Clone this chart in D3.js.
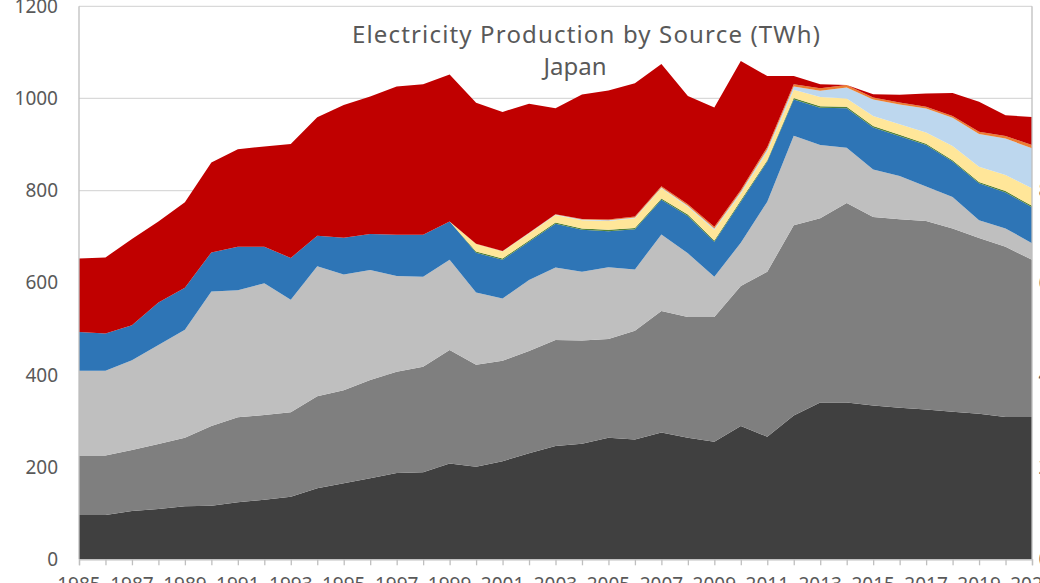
<!DOCTYPE html>
<html>
<head>
<meta charset="utf-8">
<script src="https://cdn.jsdelivr.net/npm/d3@7.9.0/dist/d3.min.js"></script>
<style>
  html, body { margin: 0; padding: 0; background: #fff; overflow: hidden; }
  svg { display: block; }
  text { font-family: "Noto Sans", "Open Sans", sans-serif; fill: #595959; }
</style>
</head>
<body>
<svg id="chart" width="1040" height="583"></svg>
<script>
const years = d3.range(1985, 2022);

const coal = [96, 96, 105, 109, 115, 116, 124, 129, 136, 154, 165, 176, 187, 189, 208,
  201, 213, 230, 246, 251, 264, 260, 275, 264, 255, 289, 266,
  312, 340, 340, 334, 329, 325, 320, 316, 309, 309];
const gas = [129, 129, 132, 141, 149, 173, 184, 184, 183, 200, 202, 213, 220, 229, 246,
  221, 218, 222, 230, 224, 214, 236, 264, 262, 271, 304, 358,
  413, 400, 433, 409, 409, 409, 398, 381, 369, 341];
const oil = [184, 184, 195, 215, 234, 292, 276, 286, 244, 282, 251, 239, 208, 195, 196,
  157, 135, 154, 157, 149, 156, 133, 166, 138, 87, 94, 152,
  194, 159, 120, 103, 94, 75, 68, 39, 40, 36];
const hydro = [84, 81, 76, 92, 91, 85, 94, 79, 91, 66, 80, 78, 89, 91, 83,
  86, 84, 83, 95, 91, 78, 87, 75, 81, 76, 89, 87,
  79, 81, 86, 91, 86, 90, 77, 80, 78, 78];
const geothermal = [0, 0, 0, 0, 0, 0, 0, 0, 0, 0, 0, 0, 0, 0, 0,
  3, 3, 3, 3, 3, 3, 3, 3, 3, 3, 3, 3,
  3, 3, 3, 3, 3, 3, 3, 3, 3, 3];
const bioenergy = [0, 0, 0, 0, 0, 0, 0, 0, 0, 0, 0, 0, 0, 0, 0,
  16, 15, 15, 16, 18, 19, 21, 22, 17, 23, 15, 19,
  18, 20, 18, 22, 23, 24, 31, 33, 35, 38];
const solar = [0, 0, 0, 0, 0, 0, 0, 0, 0, 0, 0, 0, 0, 0, 0,
  0.4, 0.6, 0.9, 1.1, 1.3, 1.5, 1.7, 2, 2.3, 2.8, 3.5, 5,
  7, 14, 24, 36, 43, 52, 61, 71, 79, 87];
const wind = [0, 0, 0, 0, 0, 0, 0, 0, 0, 0, 0, 0, 0, 0, 0,
  0.1, 0.3, 0.6, 0.9, 1.3, 1.7, 2.2, 2.6, 2.9, 3.6, 4, 4.6,
  5, 5, 5, 4, 4, 4, 4, 5, 5.5, 7];
const nuclear = [160, 165, 187, 176, 186, 195, 212, 218, 247, 257, 288, 298, 322, 327, 319,
  306, 302, 280, 230, 270, 280, 289, 265, 235, 259, 280, 154,
  18, 9, 0, 7, 17, 29, 50, 65, 45, 61];

const sources = ["Coal", "Gas", "Oil", "Hydro", "Geothermal", "Bioenergy", "Solar", "Wind", "Nuclear"];
const seriesValues = [coal, gas, oil, hydro, geothermal, bioenergy, solar, wind, nuclear];
const colors = ["#404040", "#7f7f7f", "#bfbfbf", "#2e75b6", "#548235", "#ffe699", "#bdd7ee", "#ed7d31", "#c00000"];
const yTicks = [0, 200, 400, 600, 800, 1000, 1200];
const xLabelYears = years.filter(y => (y - 1985) % 2 === 0);

const table = years.map((yr, i) => {
  const row = { year: yr };
  sources.forEach((s, k) => { row[s] = seriesValues[k][i]; });
  return row;
});

const svg = d3.select("#chart");
const plotLeft = 79, plotRight = 1032, plotBottom = 559.3, plotTop = 6.3;

const x = d3.scaleLinear().domain([1985, 2021]).range([plotLeft, plotRight]);
const y = d3.scaleLinear().domain([0, 1200]).range([plotBottom, plotTop]);

// gridlines
svg.append("g")
  .selectAll("line")
  .data(yTicks.filter(d => d > 0))
  .join("line")
  .attr("x1", plotLeft).attr("x2", plotRight)
  .attr("y1", d => y(d)).attr("y2", d => y(d))
  .attr("stroke", "#d9d9d9")
  .attr("stroke-width", 1.3);

// stacked areas
const stacked = d3.stack().keys(sources)(table);
const area = d3.area()
  .x(d => x(d.data.year))
  .y0(d => y(d[0]))
  .y1(d => y(d[1]));

svg.append("g")
  .selectAll("path")
  .data(stacked)
  .join("path")
  .attr("d", area)
  .attr("fill", (d, i) => colors[i]);

// axis lines
const axisColor = "#bfbfbf";
svg.append("line")
  .attr("x1", plotLeft).attr("x2", plotLeft).attr("y1", plotTop).attr("y2", plotBottom)
  .attr("stroke", axisColor).attr("stroke-width", 1.3);
svg.append("line")
  .attr("x1", plotRight).attr("x2", plotRight).attr("y1", plotTop).attr("y2", plotBottom)
  .attr("stroke", axisColor).attr("stroke-width", 1.3);

// bottom axis, a tick at every year
const xAxis = d3.axisBottom(x)
  .tickValues(years)
  .tickSize(6)
  .tickFormat("");
const gx = svg.append("g")
  .attr("transform", `translate(0,${plotBottom})`)
  .call(xAxis);
gx.select(".domain").attr("stroke", axisColor).attr("stroke-width", 1.3);
gx.selectAll(".tick line").attr("stroke", axisColor).attr("stroke-width", 1.3);

svg.append("g")
  .selectAll("text")
  .data(xLabelYears)
  .join("text")
  .attr("x", d => x(d))
  .attr("y", 591)
  .attr("text-anchor", "middle")
  .attr("font-size", 19)
  .text(d => d);

// left axis labels
svg.append("g")
  .selectAll("text")
  .data(yTicks)
  .join("text")
  .attr("x", 58)
  .attr("y", d => y(d))
  .attr("dy", "0.35em")
  .attr("text-anchor", "end")
  .attr("font-size", 19)
  .text(d => d);

// right axis labels, cut off by the frame
svg.append("g")
  .selectAll("text")
  .data(yTicks)
  .join("text")
  .attr("x", 1038.5)
  .attr("y", d => y(d))
  .attr("dy", "0.35em")
  .attr("text-anchor", "start")
  .attr("font-size", 19)
  .text(d => d);

// title
svg.append("text")
  .attr("x", 586).attr("y", 43)
  .attr("text-anchor", "middle")
  .attr("font-size", 24)
  .attr("textLength", 468)
  .attr("lengthAdjust", "spacing")
  .text("Electricity Production by Source (TWh)");
svg.append("text")
  .attr("x", 575).attr("y", 75)
  .attr("text-anchor", "middle")
  .attr("font-size", 24)
  .text("Japan");
</script>
</body>
</html>
